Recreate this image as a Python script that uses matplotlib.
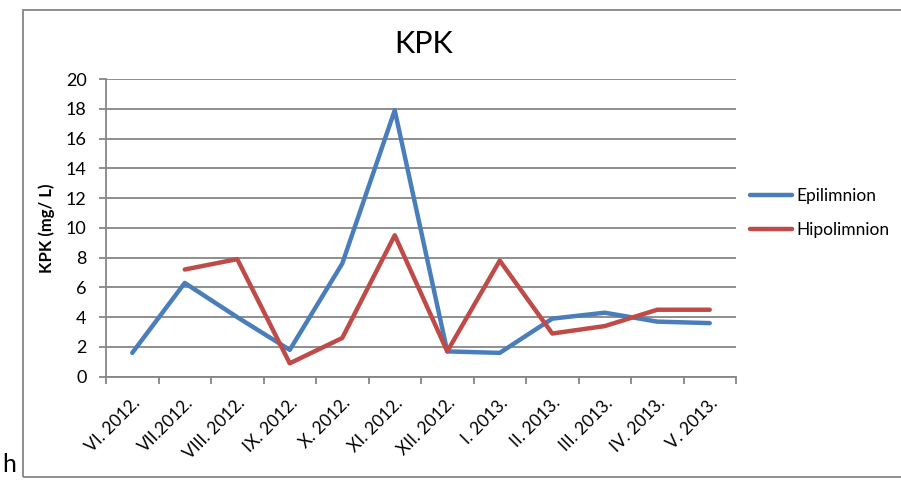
import matplotlib.pyplot as plt
from matplotlib.patches import Rectangle
import numpy as np

plt.rcParams['font.family'] = ['Lato', 'DejaVu Sans']

months = ['VI. 2012.', 'VII.2012.', 'VIII. 2012.', 'IX. 2012.', 'X. 2012.', 'XI. 2012.',
          'XII. 2012.', 'I. 2013.', 'II. 2013.', 'III. 2013.', 'IV. 2013.', 'V. 2013.']
epilimnion = [1.6, 6.3, 4.0, 1.8, 7.6, 17.9, 1.7, 1.6, 3.9, 4.3, 3.7, 3.6]
hipolimnion = [np.nan, 7.2, 7.9, 0.9, 2.6, 9.5, 1.7, 7.8, 2.9, 3.4, 4.5, 4.5]

grey = '#868686'

fig = plt.figure(figsize=(9.01, 4.83), dpi=100)
ax = fig.add_axes([106 / 901, 1 - 376.7 / 483, 630 / 901, 297.7 / 483])

x = np.arange(len(months)) + 0.5
ax.plot(x, epilimnion, color='#4A7EBB', lw=3.2, label='Epilimnion', solid_capstyle='round')
ax.plot(x, hipolimnion, color='#BE4B48', lw=3.2, label='Hipolimnion', solid_capstyle='round')

ax.set_xlim(0, len(months))
ax.set_ylim(0, 20)
ax.set_yticks(range(0, 21, 2))
ax.yaxis.grid(True, color=grey, lw=1.3)
ax.set_axisbelow(True)

ax.set_xticks(np.arange(len(months) + 1))
ax.set_xticklabels([])
ax.set_xticks(x, minor=True)
ax.set_xticklabels(months, minor=True, rotation=45, ha='right', va='top',
                   rotation_mode='anchor', fontsize=12.5)
ax.tick_params(axis='x', which='minor', length=0, pad=13)
ax.tick_params(axis='x', which='major', length=5, width=1.3, color=grey)
ax.tick_params(axis='y', length=5, width=1.3, color=grey, labelsize=13, pad=9)

for s in ['top', 'right']:
    ax.spines[s].set_visible(False)
for s in ['left', 'bottom']:
    ax.spines[s].set_color(grey)
    ax.spines[s].set_linewidth(1.3)

ax.set_ylabel('KPK (mg/ L)', fontsize=12, fontweight='bold', labelpad=8)
fig.text(424 / 901, 1 - 44 / 483, 'KPK', fontsize=22, ha='center', va='center')

ax.legend(loc='center left', bbox_to_anchor=(1.0, 0.55), frameon=False,
          fontsize=12.5, handlelength=2.4, handletextpad=0.25, labelspacing=1.0,
          borderpad=0.3)

fig.patches.append(Rectangle((23 / 901, 1 - 477 / 483), 1.0, 467 / 483,
                             transform=fig.transFigure, fill=False,
                             edgecolor=grey, lw=1.3))
fig.text(2 / 901, 1 - 465 / 483, 'h', fontsize=18, ha='left', va='center')

fig.savefig('out.png', dpi=100)
